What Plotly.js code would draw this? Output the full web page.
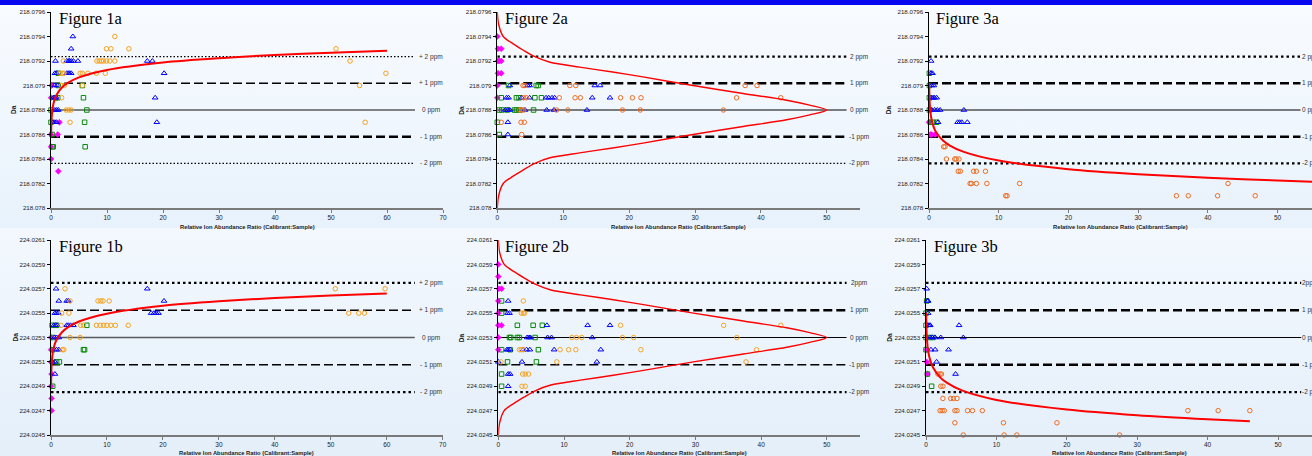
<!DOCTYPE html>
<html><head><meta charset="utf-8">
<script src="https://cdn.plot.ly/plotly-3.0.1.min.js"></script>
<style>
html,body{margin:0;padding:0;background:#fff;}
#chart{width:1312px;height:456px;background:linear-gradient(to bottom,#0808f0 0px,#0808f0 5px,#f8fbff 5px,#e8f2fc 228px,#f3f8fe 228px,#e4effa 456px);}
</style></head><body><div id="chart"></div><script>
// ---------- tick labels ----------
const yTicksA = [218.078,218.0782,218.0784,218.0786,218.0788,218.079,218.0792,218.0794,218.0796];
const yTickTextA = ['218.078','218.0782','218.0784','218.0786','218.0788','218.079','218.0792','218.0794','218.0796'];
const yTicksB = [224.0245,224.0247,224.0249,224.0251,224.0253,224.0255,224.0257,224.0259,224.0261];
const yTickTextB = ['224.0245','224.0247','224.0249','224.0251','224.0253','224.0255','224.0257','224.0259','224.0261'];
const xTicks70 = [0,10,20,30,40,50,60,70];
const xTicks50 = [0,10,20,30,40,50];
const panelTitles = ['Figure 1a','Figure 2a','Figure 3a','Figure 1b','Figure 2b','Figure 3b'];
const xTitle = 'Relative Ion Abundance Ratio (Calibrant:Sample)';
const yTitle = 'Da';

// ---------- ppm reference lines ----------
const ppmA = [218.079236,218.079018,218.0788,218.078582,218.078364];
const ppmB = [224.025748,224.025524,224.0253,224.025076,224.024852];
const ppmLabels1 = ['+ 2 ppm','+ 1 ppm','0 ppm','- 1 ppm','- 2 ppm'];
const ppmLabels2a = ['2 ppm','1 ppm','0 ppm','-1 ppm','-2 ppm'];
const ppmLabels2b = ['2ppm','1 ppm','0 ppm','-1 ppm','-2 ppm'];
const ppmLabels3a = ['2 ppm','1 ppm','0 ppm','-1 ppm','-2 ppm'];
const ppmLabels3b = ['2ppm','1 ppm','0 ppm','-1 ppm','-2 ppm'];
const lineX1 = [0,65];
const lineX2 = [0,53];
const lineX3 = [0,53.3];

// ---------- fitted curves ----------
const c1a_x = [0.02,0.1,0.3,0.6,1,2,3,5,10,20,30,40,50,60];
const c1a_y = [218.078582,218.078723,218.078819,218.07888,218.078925,218.078986,218.079021,218.079066,218.079127,218.079188,218.079223,218.079249,218.079268,218.079284];
const c1b_x = [0.02,0.1,0.3,0.6,1,2,3,5,10,20,30,40,50,60];
const c1b_y = [224.024917,224.025067,224.025169,224.025234,224.025281,224.025345,224.025383,224.025431,224.025495,224.02556,224.025597,224.025624,224.025645,224.025662];
const c2a_x = [0,0.2,0.9,2.4,3.9,5.7,8.0,12.5,17.5,22.1,29.7,37.3,43.9,47.4,50,47.4,43.9,37.3,29.7,22.1,17.5,12.5,8.0,5.7,3.9,2.4,0.9,0.2,0];
const c2a_y = [218.0796,218.0795,218.0794,218.07934,218.07929,218.079235,218.07919,218.07915,218.07911,218.07907,218.0790,218.078935,218.07888,218.07884,218.0788,218.07876,218.07872,218.078665,218.0786,218.07853,218.07849,218.07845,218.07841,218.078365,218.07831,218.07826,218.0782,218.0781,218.078];
const c2b_x = [0,0.2,0.9,2.4,3.9,5.7,8.0,12.5,17.5,22.1,29.7,37.3,43.9,47.4,50,47.4,43.9,37.3,29.7,22.1,17.5,12.5,8.0,5.7,3.9,2.4,0.9,0.2,0];
const c2b_y = [224.0261,224.026,224.0259,224.02584,224.02579,224.025735,224.02569,224.02565,224.02561,224.02557,224.0255,224.025435,224.02538,224.02534,224.0253,224.02526,224.02522,224.025165,224.0251,224.02503,224.02499,224.02495,224.02491,224.024865,224.02481,224.02476,224.0247,224.0246,224.0245];
const c3a_x = [0.02,0.1,0.3,0.6,1,2,3,5,10,20,30,40,50,60];
const c3a_y = [218.079018,218.078855,218.078743,218.078673,218.078621,218.078551,218.07851,218.078458,218.078387,218.078317,218.078276,218.078247,218.078224,218.078205];
const c3b_x = [0.02,0.1,0.3,0.6,1,2,3,5,10,20,30,40,46];
const c3b_y = [224.025503,224.025318,224.025192,224.025112,224.025053,224.024973,224.024927,224.024868,224.024788,224.024709,224.024662,224.024629,224.024613];

// ---------- scatter series: [Da level, [ratios...]] ----------
const p1a_magenta = [[218.0790,[0.1]],[218.0789,[0.0]],[218.0787,[1.5]],[218.0786,[0.0,1.2]],[218.0785,[0.0]],[218.0784,[0.0]],[218.0783,[1.3]]];
const p1a_green = [[218.0791,[1.3]],[218.0790,[1.3,5.6]],[218.0789,[0.8,1.2,5.8]],[218.0788,[0.0,6.4]],[218.0787,[0.0,6.0]],[218.0786,[0.2]],[218.0785,[0.2,0.4,6.1]]];
const p1a_blue = [[218.0794,[3.9]],[218.0793,[3.6]],[218.0792,[0.8,2.8,3.1,3.3,3.6,4.0,4.8,17.2,18.1]],[218.0791,[0.7,1.0,2.8,3.1,3.3,3.6,20.2]],[218.0790,[0.7,1.1]],[218.0789,[0.4,0.7,1.0,18.6]],[218.0788,[0.7,1.0,1.3]],[218.0787,[0.4,0.7,1.0,18.9]]];
const p1a_orange = [[218.0794,[11.4]],[218.0793,[9.9,10.7,13.9,50.9]],[218.0792,[2.2,8.2,8.6,9.0,9.4,9.9,10.5,11.4,53.4]],[218.0791,[1.6,2.0,2.3,5.2,5.6,6.6,8.1,9.7,59.8]],[218.0790,[1.9,2.4,5.6,55.1]],[218.0789,[1.9]],[218.0788,[2.7,3.2,3.6]],[218.0787,[3.4,56.1]]];

const p1b_magenta = [[224.0253,[0.0]],[224.0252,[0.0]],[224.0251,[0.0]],[224.0250,[0.1]],[224.0249,[0.0]],[224.0248,[0.1]],[224.0247,[0.1]]];
const p1b_green = [[224.0254,[0.2,1.0,6.4]],[224.0253,[0.4]],[224.0252,[0.3,5.8,6.0]],[224.0251,[1.0,1.5]],[224.0249,[0.3]]];
const p1b_blue = [[224.0257,[0.9,17.2]],[224.0256,[1.4,2.8,3.1,20.2]],[224.0255,[0.7,1.0,1.3,17.9,18.4,18.8,19.2]],[224.0254,[0.5,0.8,1.1,2.8,3.1,3.5,4.0]],[224.0253,[0.6,1.0,1.4]],[224.0252,[1.0,1.4]],[224.0251,[0.3,0.7]],[224.0250,[0.7]]];
const p1b_orange = [[224.0257,[2.5,50.8,59.7]],[224.0256,[3.4,8.4,8.9,9.3,10.4]],[224.0255,[1.9,3.2,53.2,55.0,56.0]],[224.0254,[1.8,5.3,5.8,8.1,8.8,9.4,10.0,10.7,11.5,13.8]],[224.0253,[3.4,5.2]],[224.0252,[2.0,2.3]]];

const p2a_magenta = [[218.0794,[0.0]],[218.0793,[0.1,0.6]],[218.0792,[0.1,0.3,0.6]],[218.0791,[0.1,0.6]],[218.0790,[0.0]],[218.0789,[0.0]]];
const p2a_green = [[218.0790,[1.7,5.9,6.2]],[218.0789,[0.6,2.9,3.3,5.7,6.7]],[218.0788,[0.3,0.7,1.5,2.6,2.9,3.4,5.5]],[218.0787,[0.0]],[218.0786,[0.3]]];
const p2a_blue = [[218.0790,[1.9,4.6,4.9,14.8,15.6]],[218.0789,[1.4,1.7,3.7,4.9,7.4,7.8,8.3,8.7,14.4,17.1]],[218.0788,[1.2,1.6,1.9,4.2,7.5,8.6,13.6]],[218.0787,[1.6]],[218.0786,[1.6]]];
const p2a_orange = [[218.0790,[3.9,4.2,11.0,11.9,37.6,39.4]],[218.0789,[4.0,4.4,9.4,11.8,12.6,18.7,20.5,21.8,36.3,43.0]],[218.0788,[3.4,3.7,4.0,9.0,10.7,19.0,21.7,34.3]],[218.0787,[0.6,3.6,4.1]],[218.0786,[3.7]]];

const p2b_magenta = [[224.0259,[0.0]],[224.0258,[0.0]],[224.0257,[0.1,0.5]],[224.0256,[0.0]],[224.0255,[0.0]],[224.0254,[0.0,0.5]],[224.0253,[0.0]],[224.0252,[0.0]]];
const p2b_green = [[224.0256,[0.5]],[224.0255,[0.5]],[224.0254,[2.9,5.3,6.7]],[224.0253,[1.7,1.9,2.9,3.2,5.6]],[224.0252,[0.5,1.8,6.1]],[224.0251,[1.4,5.8]],[224.0250,[0.5]],[224.0249,[0.5]]];
const p2b_blue = [[224.0256,[1.5]],[224.0255,[1.4,1.7]],[224.0254,[7.4,13.6,17.0]],[224.0253,[4.4,4.7,4.9,7.5,8.1,14.3]],[224.0252,[1.3,1.5,1.8,3.8,4.3,4.8,8.5,15.6]],[224.0251,[0.0,3.6,15.0]],[224.0250,[1.5,1.8]],[224.0249,[1.5]]];
const p2b_orange = [[224.0256,[3.8]],[224.0255,[3.5,3.8,4.0]],[224.0254,[18.6,34.3,43.0]],[224.0253,[11.2,11.9,12.7,18.9,20.6,36.3]],[224.0252,[3.2,3.5,3.8,9.4,10.7,11.8,21.7,39.3]],[224.0251,[0.4,8.9,37.7]],[224.0250,[3.7,4.1,4.6]],[224.0249,[3.6,4.1]]];

const p3a_magenta = [[218.0787,[0.0]],[218.0786,[0.2,0.4,0.9]]];
const p3a_green = [[218.0791,[0.05]],[218.0790,[0.05]],[218.0789,[0.05]],[218.0788,[0.05]],[218.0787,[0.2,0.6,1.1]]];
const p3a_blue = [[218.0792,[0.3]],[218.0791,[0.3,0.5]],[218.0790,[0.4,0.7]],[218.0789,[0.4,0.6,0.8,1.1]],[218.0788,[0.4,0.8,1.2,1.6,5.0]],[218.0787,[1.3,4.1,4.4,4.7,5.5]]];
const p3a_orange = [[218.0785,[2.1,2.3]],[218.0784,[2.5,3.7,3.9,4.3]],[218.0783,[4.2,4.5,6.4,6.8,8.1]],[218.0782,[5.9,6.1,6.8,8.3,13.0,42.9]],[218.0781,[11.0,11.2,35.5,37.2,41.4,46.8]]];

const p3b_magenta = [[224.0252,[0.1]],[224.0251,[0.1]],[224.0250,[0.2]]];
const p3b_green = [[224.0256,[0.1]],[224.0255,[0.0]],[224.0254,[0.0]],[224.0253,[0.0,0.5,1.0]],[224.0252,[0.0]],[224.0250,[0.2]],[224.0249,[0.8]]];
const p3b_blue = [[224.0257,[0.1]],[224.0256,[0.2,0.3]],[224.0255,[0.3]],[224.0254,[0.3,0.5,0.6,4.7]],[224.0253,[0.6,0.9,1.3,2.1,5.3]],[224.0252,[0.7,1.3,3.2]],[224.0251,[1.5]],[224.0250,[4.2]]];
const p3b_orange = [[224.0250,[1.7,2.0,2.2]],[224.0249,[2.1,2.4]],[224.0248,[2.4,3.5,3.9,4.4]],[224.0247,[2.0,2.3,2.6,4.1,4.4,5.9,6.6,8.0,37.2,41.5,46.0]],[224.0246,[4.1,11.0,18.6]],[224.0245,[5.3,11.1,12.9,27.5]]];

// ---------- drawing ----------
const W = 1312, H = 456;
const FONT = 'Liberation Sans, Arial, sans-serif';
function flat(groups){const x=[],y=[];groups.forEach(g=>g[1].forEach(v=>{x.push(v);y.push(g[0]);}));return {x,y};}

const ST = {
  dotThin:{width:1.2,dash:'1.5px,2px',color:'#000'},
  dotThick:{width:2.2,dash:'2.5px,3px',color:'#000'},
  dashMed:{width:1.5,dash:'9px,4px',color:'#000'},
  dashThick:{width:2.5,dash:'9px,4px',color:'#000'},
  solidGray:{width:1.5,color:'#5a5a5a'},
  solidBlack:{width:1.2,color:'#000'}
};

const panels = [
  {id:1,x0:51,x1:443,top:12,bot:208,xr:[0,70],xt:xTicks70,yt:yTicksA,ytt:yTickTextA,yr:[218.078,218.0796],ppm:ppmA,lab:ppmLabels1,labX:431,labAnchor:'center',lineX:lineX1,
   st:['dotThin','dashMed','solidGray','dashThick','dotThin'],curve:[c1a_x,c1a_y],cw:2,
   s:[p1a_magenta,p1a_green,p1a_blue,p1a_orange],orange:'#f7a21b',titleX:57,daX:14},
  {id:2,x0:497.3,x1:859.8,top:12,bot:208,xr:[0,55],xt:xTicks50,yt:yTicksA,ytt:yTickTextA,yr:[218.078,218.0796],ppm:ppmA,lab:ppmLabels2a,labX:859,labAnchor:'center',lineX:lineX2,
   st:['dotThick','dashThick','solidBlack','dashThick','dotThin'],curve:[c2a_x,c2a_y],cw:1.4,
   s:[p2a_magenta,p2a_green,p2a_blue,p2a_orange],orange:'#f26b1d',titleX:503,daX:461.7},
  {id:3,x0:929,x1:1312,top:12,bot:208,xr:[0,54.95],xt:xTicks50,yt:yTicksA,ytt:yTickTextA,yr:[218.078,218.0796],ppm:ppmA,lab:ppmLabels3a,labX:1300,labAnchor:'left',lineX:lineX3,
   st:['dotThick','dashThick','solidBlack','dashThick','dotThick'],curve:[c3a_x,c3a_y],cw:2,
   s:[p3a_magenta,p3a_green,p3a_blue,p3a_orange],orange:'#f26b1d',titleX:934,daX:889.3},
  {id:4,x0:51,x1:442.7,top:240,bot:435,xr:[0,70],xt:xTicks70,yt:yTicksB,ytt:yTickTextB,yr:[224.0245,224.0261],ppm:ppmB,lab:ppmLabels1,labX:431,labAnchor:'center',lineX:lineX1,
   st:['dotThick','dashMed','solidGray','dashMed','dotThick'],curve:[c1b_x,c1b_y],cw:2,
   s:[p1b_magenta,p1b_green,p1b_blue,p1b_orange],orange:'#f7a21b',titleX:57,daX:15},
  {id:5,x0:498.3,x1:859.7,top:240,bot:435,xr:[0,55],xt:xTicks50,yt:yTicksB,ytt:yTickTextB,yr:[224.0245,224.0261],ppm:ppmB,lab:ppmLabels2b,labX:859,labAnchor:'center',lineX:lineX2,
   st:['dotThick','dashThick','solidBlack','dashMed','dotThick'],curve:[c2b_x,c2b_y],cw:1.4,
   s:[p2b_magenta,p2b_green,p2b_blue,p2b_orange],orange:'#f7a526',titleX:503,daX:461.7},
  {id:6,x0:926,x1:1312,top:240,bot:435,xr:[0,54.83],xt:xTicks50,yt:yTicksB,ytt:yTickTextB,yr:[224.0245,224.0261],ppm:ppmB,lab:ppmLabels3b,labX:1300,labAnchor:'left',lineX:lineX3,
   st:['dotThick','dashThick','solidBlack','dashThick','dotThick'],curve:[c3b_x,c3b_y],cw:2,
   s:[p3b_magenta,p3b_green,p3b_blue,p3b_orange],orange:'#f26b1d',titleX:932,daX:889.3}
];

const traces = [];
const layout = {width:W,height:H,margin:{l:0,r:0,t:0,b:0},paper_bgcolor:'rgba(0,0,0,0)',plot_bgcolor:'rgba(0,0,0,0)',
  showlegend:false,font:{family:FONT,size:7,color:'#222'},annotations:[]};

panels.forEach(p=>{
  const sfx = p.id===1?'':String(p.id);
  const xa='x'+sfx, ya='y'+sfx;
  layout['xaxis'+sfx] = {domain:[p.x0/W,Math.min(1,p.x1/W)],range:p.xr,anchor:ya,tickmode:'array',tickvals:p.xt,ticktext:p.xt.map(String),
    showline:true,linecolor:'#7a7a7a',linewidth:1.5,ticks:'outside',ticklen:3,tickcolor:'#7a7a7a',showgrid:false,zeroline:false,
    tickfont:{family:FONT,size:6.5,color:'#222'}};
  layout['yaxis'+sfx] = {domain:[1-p.bot/H,1-p.top/H],range:p.yr,anchor:xa,tickmode:'array',tickvals:p.yt,ticktext:p.ytt,
    showline:true,linecolor:'#000',linewidth:1.5,ticks:'outside',ticklen:3,tickcolor:'#000',showgrid:false,zeroline:false,
    tickfont:{family:FONT,size:6.2,color:'#222'}};
  p.ppm.forEach((lv,i)=>{
    const s=ST[p.st[i]];
    traces.push({type:'scatter',mode:'lines',x:p.lineX,y:[lv,lv],xaxis:xa,yaxis:ya,hoverinfo:'skip',
      line:{color:s.color,width:s.width,dash:s.dash||'solid'}});
    layout.annotations.push({xref:'paper',yref:ya,x:p.labX/W,y:lv,text:p.lab[i],showarrow:false,xanchor:p.labAnchor,yanchor:'middle',
      font:{family:FONT,size:6.5,color:'#333'}});
  });
  const mk = [
    {c:'#ff00ff',sym:'diamond',sz:4.5,w:0.6},
    {c:'#0a8a0a',sym:'square-open',sz:4.5,w:1},
    {c:'#0000ff',sym:'triangle-up-open',sz:5,w:1},
    {c:p.orange,sym:'circle-open',sz:4.5,w:1}
  ];
  p.s.forEach((g,i)=>{
    const d=flat(g);
    traces.push({type:'scatter',mode:'markers',x:d.x,y:d.y,xaxis:xa,yaxis:ya,cliponaxis:false,
      marker:{symbol:mk[i].sym,size:mk[i].sz,color:mk[i].c,line:{color:mk[i].c,width:mk[i].w}}});
  });
  traces.push({type:'scatter',mode:'lines',x:p.curve[0],y:p.curve[1],xaxis:xa,yaxis:ya,
    line:{color:'#ff0000',width:p.cw,shape:'spline',smoothing:0.8}});
  const isTop = p.top<100;
  layout.annotations.push({xref:'paper',yref:'paper',x:p.titleX/W,y:1-(p.top+6)/H,text:panelTitles[p.id-1],showarrow:false,
    xanchor:'left',yanchor:'middle',font:{family:'Liberation Serif, Times New Roman, serif',size:16.5,color:'#000'}});
  layout.annotations.push({xref:'paper',yref:'paper',x:p.daX/W,y:1-((p.top+p.bot)/2)/H,text:'<b>'+yTitle+'</b>',textangle:-90,showarrow:false,
    xanchor:'center',yanchor:'middle',font:{family:FONT,size:6.5,color:'#222'}});
  layout.annotations.push({xref:'paper',yref:'paper',x:((p.x0+Math.min(p.x1,1312))/2)/W,y:1-(isTop?227:453)/H,text:'<b>'+xTitle+'</b>',showarrow:false,
    xanchor:'center',yanchor:'middle',font:{family:FONT,size:5.8,color:'#222'}});
});

Plotly.newPlot('chart',traces,layout,{displayModeBar:false,staticPlot:true});
</script></body></html>
